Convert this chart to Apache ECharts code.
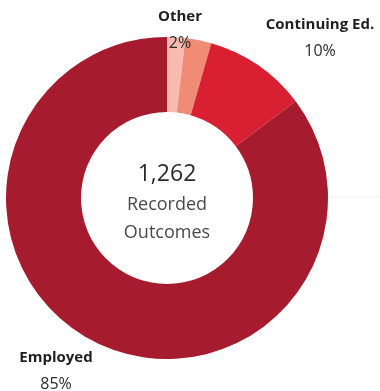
<!DOCTYPE html>
<html><head><meta charset="utf-8">
<script src="https://cdn.jsdelivr.net/npm/echarts@6/dist/echarts.min.js"></script>
<style>html,body{margin:0;padding:0;background:#fff}#c{width:380px;height:391px}</style>
</head><body><div id="c"></div>
<script>
const categories = ['Other', 'Unlabeled', 'Continuing Ed.', 'Employed'];
const counts = [23, 33, 130, 1076];
const sliceColors = ['#f9bbb0', '#f08b75', '#d91f32', '#a61b2e'];
const showLabel = [true, false, true, true];
const centerCaption = ['Recorded', 'Outcomes'];

const total = counts.reduce((a, b) => a + b, 0);
// label block centres (x, y) per slice
const labelAnchor = [[180, 30], [0, 0], [320, 38], [56, 371]];

const chart = echarts.init(document.getElementById('c'), null, {renderer: 'canvas'});
chart.setOption({
  animation: false,
  graphic: [
    {type: 'line', shape: {x1: 329, y1: 197, x2: 380, y2: 197}, style: {stroke: '#ececec', lineWidth: 1}, z: 0},
    {type: 'text', x: 167, y: 174, style: {text: total.toLocaleString('en-US'), font: '23px "Open Sans", "Noto Sans", sans-serif', fill: '#2b2b2b', align: 'center', verticalAlign: 'middle'}, z: 10},
    {type: 'text', x: 167, y: 205, style: {text: centerCaption[0], font: '18px "Open Sans", "Noto Sans", sans-serif', fill: '#4a4a4a', align: 'center', verticalAlign: 'middle'}, z: 10},
    {type: 'text', x: 167, y: 233, style: {text: centerCaption[1], font: '18px "Open Sans", "Noto Sans", sans-serif', fill: '#4a4a4a', align: 'center', verticalAlign: 'middle'}, z: 10}
  ],
  series: [{
    type: 'pie',
    center: [167, 198],
    radius: [86, 161],
    startAngle: 90,
    clockwise: true,
    avoidLabelOverlap: false,
    emphasis: {disabled: true},
    labelLine: {show: false},
    label: {
      show: true,
      position: 'outside',
      formatter: p => '{n|' + p.name + '}\n{v|' + Math.round(p.value / total * 100) + '%}',
      rich: {
        n: {fontFamily: '"Open Sans", "Noto Sans", sans-serif', fontWeight: 'bold', fontSize: 15, color: '#1e1e1e', lineHeight: 27, align: 'center'},
        v: {fontFamily: '"Open Sans", "Noto Sans", sans-serif', fontSize: 16, color: '#2b2b2b', lineHeight: 27, align: 'center'}
      }
    },
    labelLayout: params => {
      const a = labelAnchor[params.dataIndex];
      return {x: a[0], y: a[1], align: 'center', verticalAlign: 'middle'};
    },
    data: categories.map((c, i) => ({
      name: c,
      value: counts[i],
      itemStyle: {color: sliceColors[i]},
      label: {show: showLabel[i]}
    }))
  }]
});
</script>
</body></html>
